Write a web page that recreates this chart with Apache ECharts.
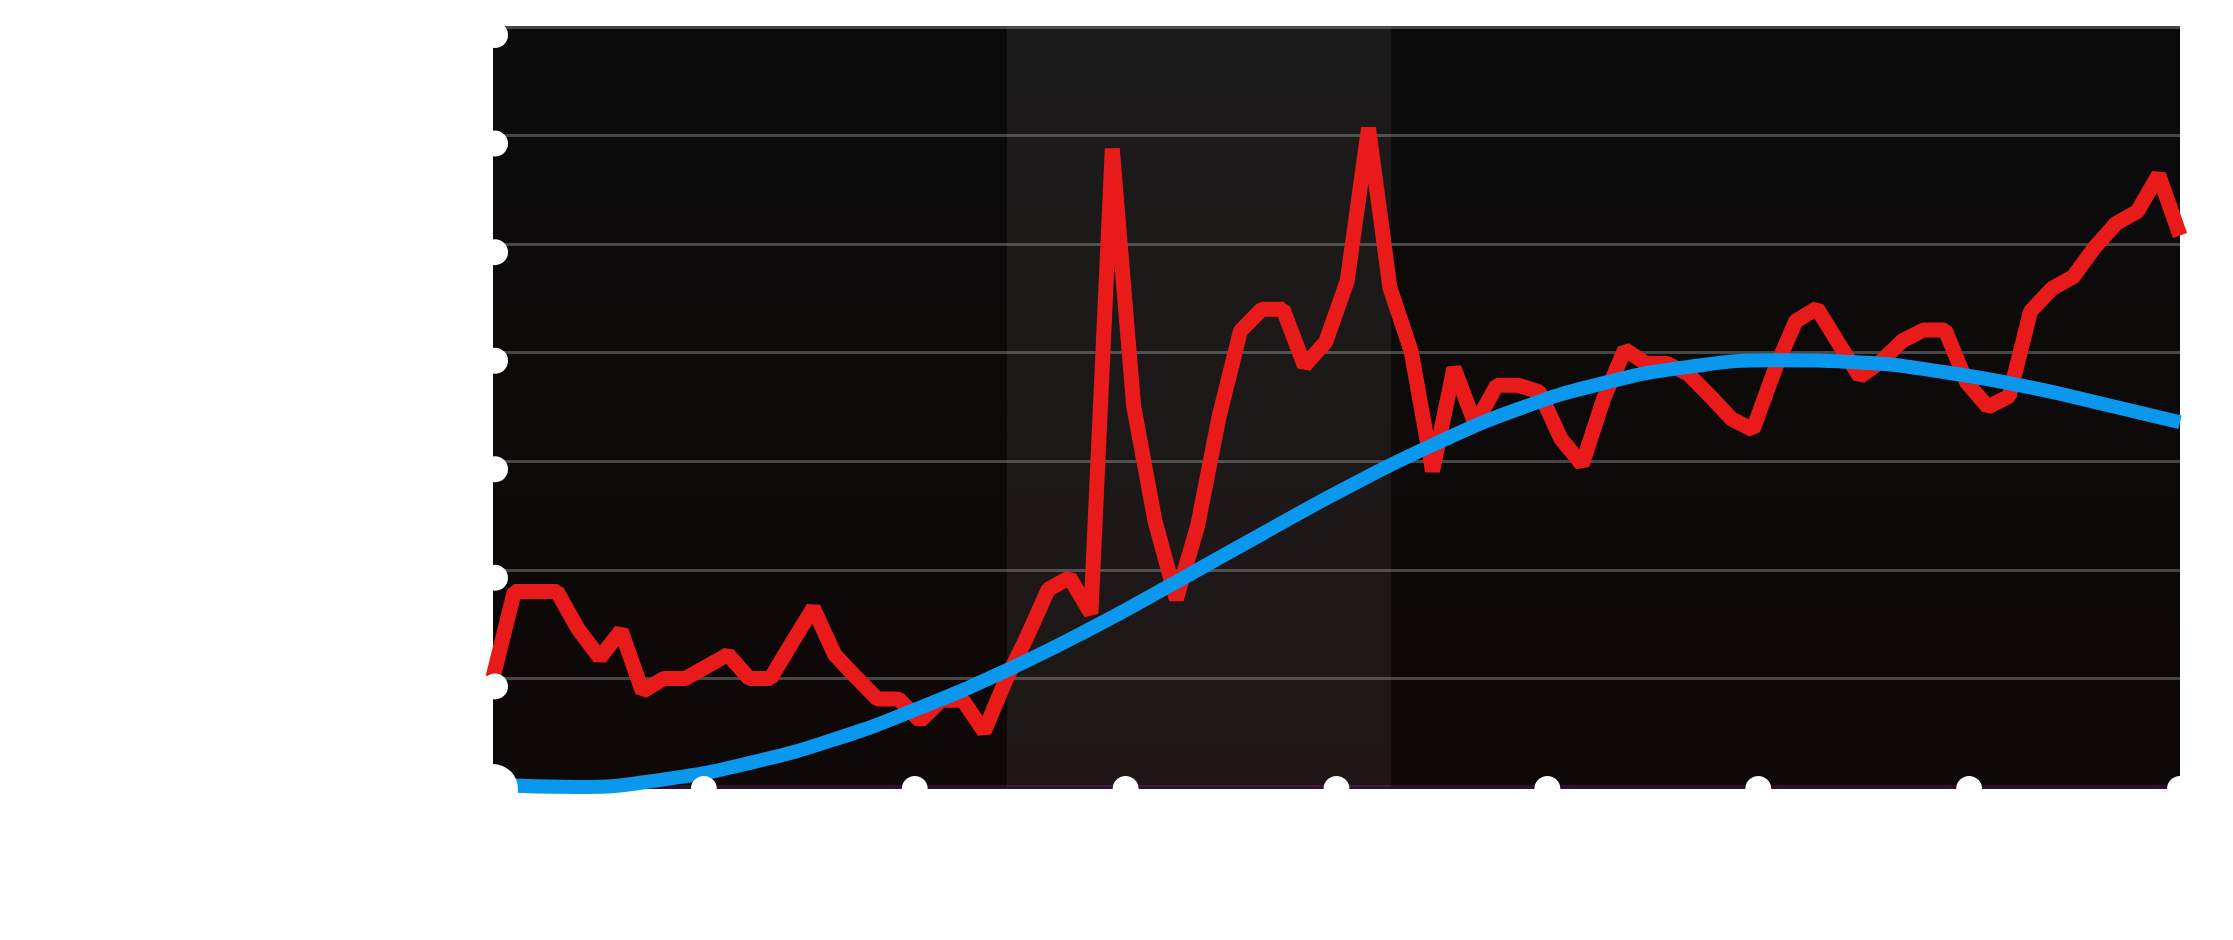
<!DOCTYPE html>
<html>
<head>
<meta charset="utf-8">
<script src="https://cdn.jsdelivr.net/npm/echarts@6/dist/echarts.min.js"></script>
<style>
html,body{margin:0;padding:0;background:#ffffff;}
#chart{width:2233px;height:940px;}
</style>
</head>
<body>
<div id="chart"></div>
<script>
// Red series: one value per period (index 0..79)
const redValues = [
  1.01, 1.80, 1.80, 1.80, 1.45, 1.19, 1.44, 0.88, 1.00, 1.00,
  1.11, 1.22, 1.00, 1.00, 1.33, 1.65, 1.22, 1.01, 0.81, 0.81,
  0.61, 0.80, 0.80, 0.51, 0.98, 1.38, 1.82, 1.93, 1.60, 5.88,
  3.51, 2.45, 1.73, 2.41, 3.41, 4.20, 4.40, 4.40, 3.88, 4.10,
  4.66, 6.07, 4.60, 4.01, 2.91, 3.86, 3.34, 3.70, 3.70, 3.64,
  3.21, 2.97, 3.57, 4.03, 3.90, 3.90, 3.80, 3.60, 3.39, 3.29,
  3.83, 4.29, 4.41, 4.09, 3.78, 3.92, 4.11, 4.21, 4.21, 3.73,
  3.50, 3.60, 4.38, 4.59, 4.70, 4.97, 5.19, 5.30, 5.64, 5.08
];
// Blue trend curve: period index and value
const trendX = [0, 4, 8, 12, 16, 20, 24, 28, 32, 36, 40, 44, 48, 52, 56, 60, 64, 68, 72, 76, 79];
const trendY = [0.02, 0.00, 0.07, 0.22, 0.44, 0.73, 1.07, 1.46, 1.89, 2.33, 2.76, 3.15, 3.48, 3.72, 3.87, 3.93, 3.91, 3.82, 3.68, 3.50, 3.36];
// Shaded band (period index range)
const bandRange = [24.07, 42.06];
// Axes
const xMin = 0, xMax = 79, xInterval = 9.875;
const yMin = 0, yMax = 7, yInterval = 1;

const chart = echarts.init(document.getElementById('chart'), null, {renderer: 'canvas'});

const redData = redValues.map((v, i) => [i, v]);
const trendData = trendX.map((x, i) => [x, trendY[i]]);

const dotRich = {
  dot: {width: 26, height: 26, borderRadius: 13, backgroundColor: '#ffffff'},
  big: {width: 50, height: 50, borderRadius: 25, backgroundColor: '#ffffff'}
};

chart.setOption({
  animation: false,
  backgroundColor: '#ffffff',
  grid: {
    left: 493, right: 53, top: 27, bottom: 153,
    show: true,
    borderWidth: 0,
    backgroundColor: new echarts.graphic.LinearGradient(0, 0, 0, 1, [
      {offset: 0, color: '#0b0b0b'},
      {offset: 1, color: '#0e0807'}
    ])
  },
  xAxis: [{
    type: 'value', min: xMin, max: xMax, interval: xInterval,
    position: 'bottom',
    axisLine: {show: true, onZero: false, lineStyle: {color: '#2e0f2c', width: 4}},
    axisTick: {show: false},
    splitLine: {show: false},
    axisLabel: {show: false}
  }, {
    type: 'value', min: xMin, max: xMax, interval: xInterval,
    position: 'bottom',
    z: 10,
    axisLine: {show: false, onZero: false},
    axisTick: {show: false},
    splitLine: {show: false},
    axisLabel: {
      show: true, margin: 2, verticalAlign: 'middle', align: 'center',
      formatter: v => (v === 0 ? '{big| }' : '{dot| }'),
      rich: dotRich
    }
  }],
  yAxis: [{
    type: 'value', min: yMin, max: yMax, interval: yInterval,
    axisLine: {show: false},
    axisTick: {show: false},
    axisLabel: {show: false},
    splitLine: {show: true, lineStyle: {color: '#464646', width: 3}}
  }, {
    type: 'value', min: yMin, max: yMax, interval: yInterval,
    position: 'left',
    z: 10,
    axisLine: {show: false},
    axisTick: {show: false},
    splitLine: {show: false},
    axisLabel: {
      show: true, showMinLabel: false, margin: -2, align: 'center', verticalAlign: 'middle',
      padding: [16, 0, 0, 0],
      formatter: () => '{dot| }',
      rich: dotRich
    }
  }],
  series: [{
    type: 'line',
    data: redData,
    xAxisIndex: 0, yAxisIndex: 0,
    symbol: 'none',
    z: 3,
    lineStyle: {color: '#e81a1a', width: 15, join: 'bevel'},
    markArea: {
      silent: true,
      itemStyle: {color: 'rgba(255,240,240,0.065)'},
      data: [[{xAxis: bandRange[0]}, {xAxis: bandRange[1]}]]
    }
  }, {
    type: 'line',
    data: trendData,
    xAxisIndex: 0, yAxisIndex: 0,
    symbol: 'none',
    smooth: true,
    z: 4,
    lineStyle: {color: '#0a98ee', width: 14}
  }]
});
</script>
</body>
</html>
